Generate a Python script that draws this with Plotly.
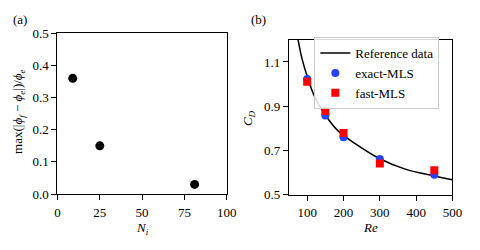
import plotly.graph_objects as go

# Panel (a)
Ni = [9, 25, 81]
err = [0.36, 0.15, 0.03]

# Panel (b)
re_ref = [72, 75, 85, 100, 120, 150, 185, 230, 300, 370, 450, 500]
cd_ref = [1.23, 1.20, 1.12, 1.035, 0.945, 0.86, 0.788, 0.733, 0.662, 0.615, 0.584, 0.567]
re_pts = [100, 150, 200, 300, 450]
cd_exact = [1.023, 0.858, 0.759, 0.661, 0.590]
cd_fast = [1.010, 0.878, 0.779, 0.641, 0.610]

a_xticks = [0, 25, 50, 75, 100]
a_yticks = [0.0, 0.1, 0.2, 0.3, 0.4, 0.5]
b_xticks = [100, 200, 300, 400, 500]
b_yticks = [0.5, 0.7, 0.9, 1.1]

FONT = "Liberation Serif"
W, H = 480, 250

fig = go.Figure()
fig.add_trace(go.Scatter(x=Ni, y=err, mode="markers",
                         marker=dict(color="black", size=9),
                         showlegend=False, xaxis="x", yaxis="y"))
fig.add_trace(go.Scatter(x=re_ref, y=cd_ref, mode="lines", line_shape="spline",
                         line=dict(color="black", width=1.5),
                         name="Reference data", xaxis="x2", yaxis="y2"))
fig.add_trace(go.Scatter(x=re_pts, y=cd_exact, mode="markers",
                         marker=dict(color="#2343ff", size=8, symbol="circle"),
                         name="exact-MLS", xaxis="x2", yaxis="y2"))
fig.add_trace(go.Scatter(x=re_pts, y=cd_fast, mode="markers",
                         marker=dict(color="#ff0000", size=8, symbol="square"),
                         name="fast-MLS", xaxis="x2", yaxis="y2"))

def px_x(p):
    return p / W

def px_y(p):
    return 1 - p / H

axis_common = dict(showgrid=False, zeroline=False, showline=True, linecolor="black",
                   linewidth=1.2, mirror=True, ticks="outside", ticklen=5,
                   tickwidth=1.2, tickcolor="black",
                   tickfont=dict(family=FONT, size=13, color="black"))

fig.update_layout(
    width=W, height=H,
    margin=dict(l=0, r=0, t=0, b=0),
    paper_bgcolor="white", plot_bgcolor="white",
    font=dict(family=FONT, size=13, color="black"),
    xaxis=dict(domain=[px_x(56), px_x(230)], range=[0, 100], tickvals=a_xticks,
               anchor="y", ticklabelstandoff=1, **axis_common),
    yaxis=dict(domain=[px_y(199), px_y(28)], range=[0, 0.5], tickvals=a_yticks,
               tickformat=".1f", anchor="x", **axis_common),
    xaxis2=dict(domain=[px_x(294), px_x(462)], range=[50, 500], tickvals=b_xticks,
                anchor="y2", ticklabelstandoff=1, **axis_common),
    yaxis2=dict(domain=[px_y(199.5), px_y(35)], range=[0.5, 1.2], tickvals=b_yticks,
                tickformat=".1f", anchor="x2", **axis_common),
    legend=dict(x=px_x(320), y=px_y(32), xanchor="left", yanchor="top",
                bgcolor="rgba(255,255,255,0.85)", bordercolor="#cccccc", borderwidth=1,
                font=dict(family=FONT, size=13, color="black"), itemwidth=30,
                tracegroupgap=0),
)

ann = [
    dict(text="(a)", x=px_x(17), y=px_y(13)),
    dict(text="(b)", x=px_x(263), y=px_y(13)),
    dict(text="<i>N<sub>i</sub></i>", x=px_x(143), y=px_y(236)),
    dict(text="<i>Re</i>", x=px_x(378), y=px_y(235)),
    dict(text="max(|<i>ϕ<sub>f</sub></i> − <i>ϕ<sub>e</sub></i>|)/<i>ϕ<sub>e</sub></i>",
         x=px_x(16), y=px_y(111), textangle=-90),
    dict(text="<i>C<sub>D</sub></i>", x=px_x(253), y=px_y(118), textangle=-90),
]
for a in ann:
    fig.add_annotation(xref="paper", yref="paper", showarrow=False,
                       xanchor="center", yanchor="middle",
                       font=dict(family=FONT, size=13, color="black"), **a)

fig.write_html("out.html",
               config={"displayModeBar": False},
               post_script="document.body.style.margin='0';"
                           "document.body.style.overflow='hidden';")
